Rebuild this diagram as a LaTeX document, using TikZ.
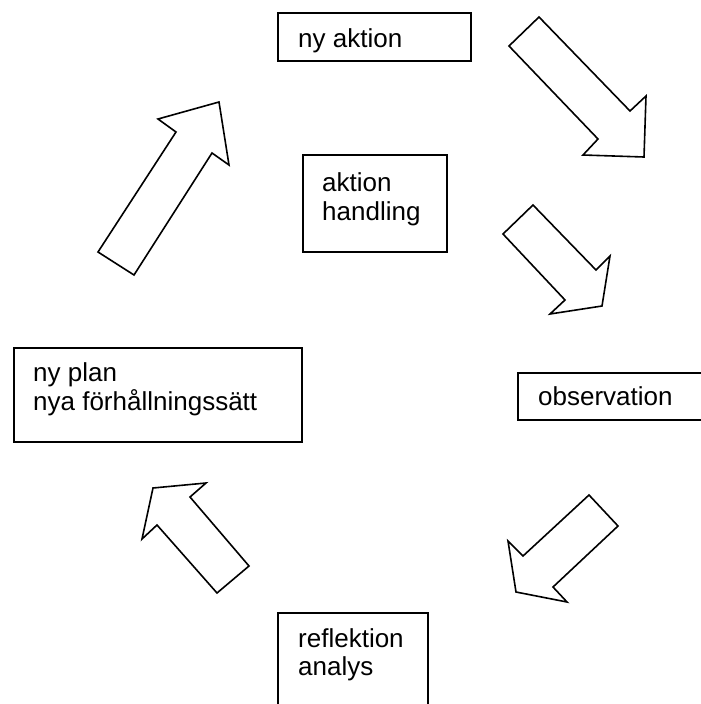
\documentclass[tikz,border=0pt]{standalone}
\usepackage{fontspec}
\setmainfont{Liberation Sans}
\begin{document}
\begin{tikzpicture}[x=1pt,y=-1pt,
  box/.style={draw, line width=1.6pt, inner sep=0pt, anchor=north west},
  txt/.style={anchor=base west, inner sep=0pt, font=\fontsize{26}{29}\selectfont},
  blockarrow/.style={draw, line width=1.6pt, line join=miter, fill=white}]
\useasboundingbox (0,0) rectangle (701,704);
\clip (0,0) rectangle (701,704);
% boxes
\node[box, minimum width=193pt, minimum height=48pt] (nyaktion) at (277,12) {};
\node[txt] (tnyaktion) at (298,47) {ny aktion};
\node[box, minimum width=144pt, minimum height=97pt] (aktion) at (302,154) {};
\node[txt] (taktion1) at (322,191) {aktion};
\node[txt] (taktion2) at (322,220) {handling};
\node[box, minimum width=200pt, minimum height=47pt] (obs) at (517,372) {};
\node[txt] (tobs) at (538,405) {observation};
\node[box, minimum width=288pt, minimum height=94pt] (nyplan) at (13,347) {};
\node[txt] (tnyplan1) at (33,381) {ny plan};
\node[txt] (tnyplan2) at (33,410) {nya förhållningssätt};
\node[box, minimum width=150pt, minimum height=110pt] (refl) at (277,612) {};
\node[txt] (trefl1) at (298,647) {reflektion};
\node[txt] (trefl2) at (298,675) {analys};
% block arrows
\draw[blockarrow] (509,46) -- (539,17) -- (630,111) -- (646,96) -- (644,157) -- (583,155) -- (598,139) -- cycle;
\draw[blockarrow] (533,205) -- (503,234) -- (565,300) -- (550,314) -- (602,306) -- (610,256) -- (596,270) -- cycle;
\draw[blockarrow] (589,495) -- (618,526) -- (553,587) -- (567,602) -- (516,592) -- (508,541) -- (523,556) -- cycle;
\draw[blockarrow] (217,593) -- (249,566) -- (190,497) -- (206,483) -- (153,488) -- (142,539) -- (157,525) -- cycle;
\draw[blockarrow] (98,252) -- (134,275) -- (212,153) -- (229,165) -- (219,102) -- (158,119) -- (176,132) -- cycle;
\end{tikzpicture}
\end{document}
